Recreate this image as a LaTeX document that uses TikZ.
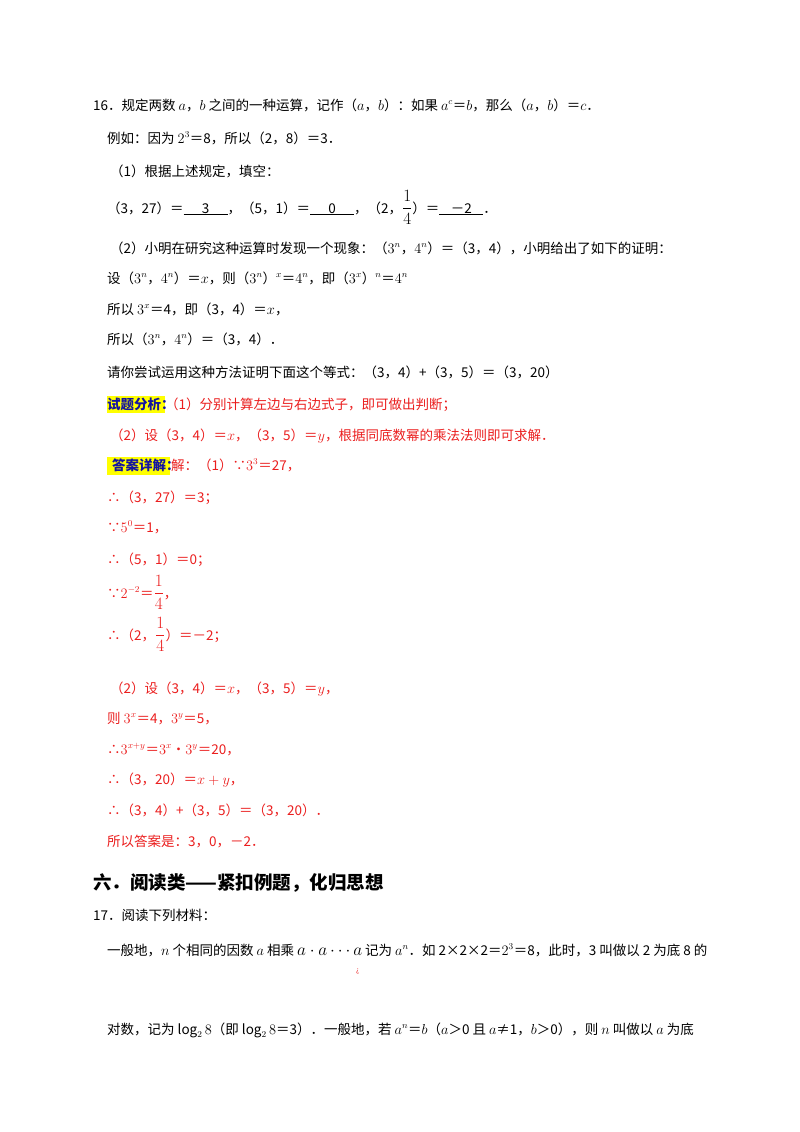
\documentclass[tikz,border=0pt]{standalone}
\usepackage{fontspec}
\setmainfont{Noto Sans CJK SC}
\definecolor{ans}{RGB}{235,30,30}
\definecolor{hl}{RGB}{255,255,0}
\definecolor{hb}{RGB}{20,20,160}
\tikzset{ln/.style={anchor=base west,inner sep=0pt,font=\fontsize{13.5}{16}\selectfont},
 red/.style={ln,text=ans},
 hlbox/.style={fill=hl,draw=none}}
\newcommand\mi[1]{$#1$}
\newcommand\blank[1]{\underline{\hbox to 44pt{\hfil#1\hfil}}}
\newcommand\qfrac{{\fontsize{17}{20}\selectfont$\displaystyle{1\over4}$}}
\begin{document}
\begin{tikzpicture}[x=1pt,y=-1pt]
\useasboundingbox (0,0) rectangle (800,1132);
\fill[white] (0,0) rectangle (800,1132);
\node[ln] (a1) at (93,110) {16．规定两数 \mi{a}，\mi{b} 之间的一种运算，记作（\mi{a}，\mi{b}）：如果 \mi{a^c}＝\mi{b}，那么（\mi{a}，\mi{b}）＝\mi{c}．};
\node[ln] (a2) at (107,143) {例如：因为 $2^3$＝8，所以（2，8）＝3．};
\node[ln] (a3) at (110,176) {（1）根据上述规定，填空：};
\node[ln] (a4) at (107,213) {（3，27）＝\blank{3}，（5，1）＝\blank{0}，（2，\qfrac）＝\blank{－2}．};
\node[ln] (a5) at (110,253) {（2）小明在研究这种运算时发现一个现象：（$3^n$，$4^n$）＝（3，4），小明给出了如下的证明：};
\node[ln] (a6) at (107,283) {设（$3^n$，$4^n$）＝\mi{x}，则（$3^n$）$^x$＝$4^n$，即（$3^x$）$^n$＝$4^n$};
\node[ln] (a7) at (107,314) {所以 $3^x$＝4，即（3，4）＝\mi{x}，};
\node[ln] (a8) at (107,344) {所以（$3^n$，$4^n$）＝（3，4）．};
\node[ln] (a9) at (107,377) {请你尝试运用这种方法证明下面这个等式：（3，4）+（3，5）＝（3，20）};
\fill[hlbox] (107,396) rectangle (165,413);
\node[ln,text=hb,font=\fontsize{13.5}{16}\selectfont\bfseries] (h1) at (107,409) {试题分析：};
\node[red] (b1) at (165,409) {（1）分别计算左边与右边式子，即可做出判断；};
\node[red] (b2) at (110,440) {（2）设（3，4）＝\mi{x}，（3，5）＝\mi{y}，根据同底数幂的乘法法则即可求解．};
\fill[hlbox] (107,457) rectangle (170,475);
\node[ln,text=hb,font=\fontsize{13.5}{16}\selectfont\bfseries] (h2) at (112,470) {答案详解：};
\node[red] (b3) at (171,470) {解：（1）∵$3^3$＝27，};
\node[red] (b4) at (107,502) {∴（3，27）＝3；};
\node[red] (b5) at (107,532) {∵$5^0$＝1，};
\node[red] (b6) at (107,564) {∴（5，1）＝0；};
\node[red] (b7) at (107,598) {∵$2^{-2}$＝\qfrac，};
\node[red] (b8) at (107,640) {∴（2，\qfrac）＝－2；};
\node[red] (b9) at (110,693) {（2）设（3，4）＝\mi{x}，（3，5）＝\mi{y}，};
\node[red] (b10) at (107,723) {则 $3^x$＝4，$3^y$＝5，};
\node[red] (b11) at (107,754) {∴$3^{x+y}$＝$3^x$•$3^y$＝20，};
\node[red] (b12) at (107,784) {∴（3，20）＝\mi{x+y}，};
\node[red] (b13) at (107,815) {∴（3，4）+（3，5）＝（3，20）．};
\node[red] (b14) at (107,846) {所以答案是：3，0，－2．};
\node[ln,font=\fontsize{18.5}{22}\selectfont\bfseries] (c1) at (93,889) {六．阅读类——紧扣例题，化归思想};
\node[ln] (c2) at (93,920) {17．阅读下列材料：};
\node[ln] (c3) at (107,955) {一般地，\mi{n} 个相同的因数 \mi{a} 相乘 {\fontsize{16}{18}\selectfont$a\cdot a\cdots a$} 记为 $a^n$．如 2×2×2＝$2^3$＝8，此时，3 叫做以 2 为底 8 的};
\node[red,font=\scriptsize] (c4) at (356,972) {¿};
\node[ln] (c5) at (107,1034) {对数，记为 $\log_2 8$（即 $\log_2 8$＝3）．一般地，若 $a^n$＝\mi{b}（\mi{a}＞0 且 \mi{a}≠1，\mi{b}＞0），则 \mi{n} 叫做以 \mi{a} 为底};
\end{tikzpicture}
\end{document}
